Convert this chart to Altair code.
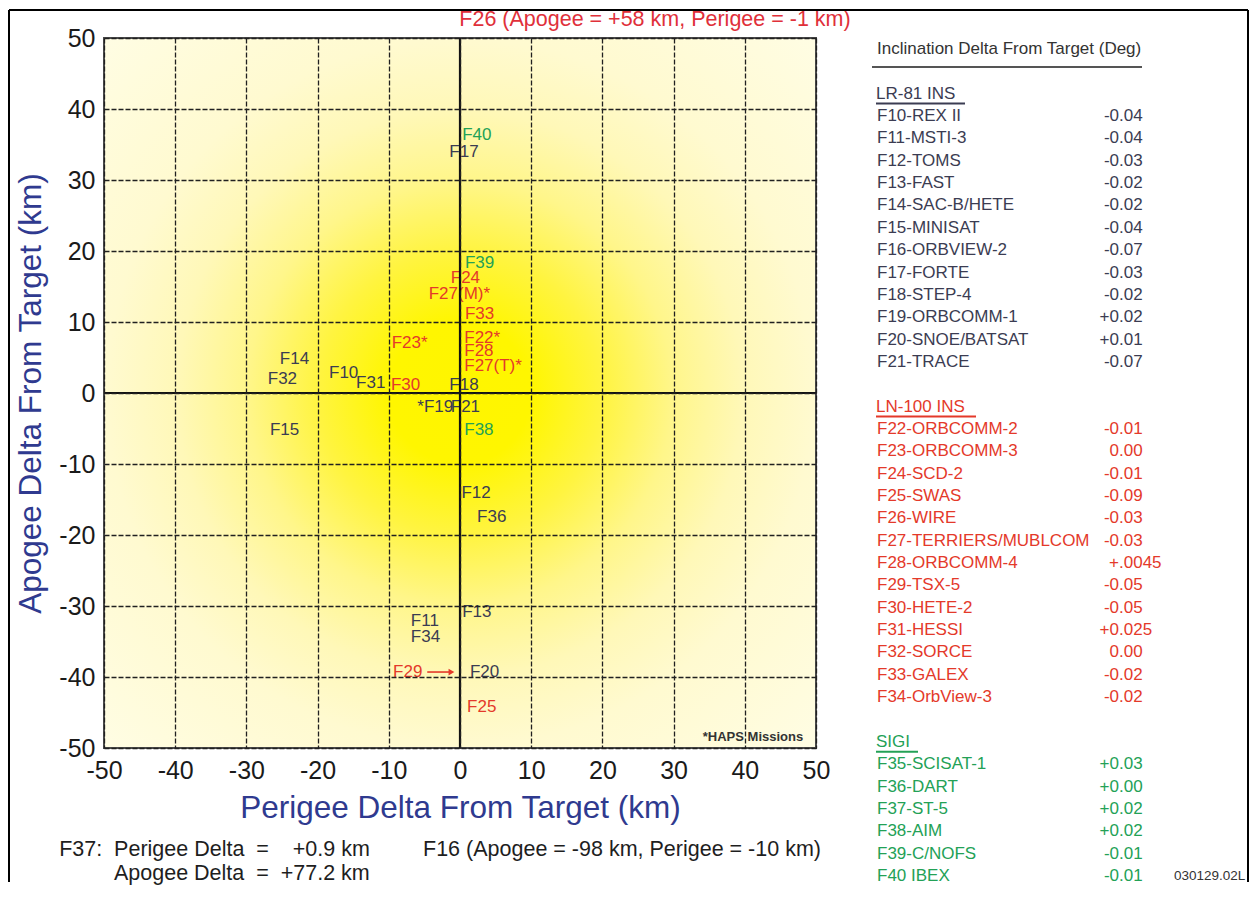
import altair as alt
import pandas as pd

FONT = "Liberation Sans"
NAVY = "#2f3a8f"
INK_DARK = "#3b3c52"
INK_RED = "#e4392a"
INK_GREEN = "#23a156"
TAB_DARK = "#45485f"
TAB_RED = "#d5344c"
TAB_GREEN = "#27a05e"

AXIS_MIN, AXIS_MAX = -50, 50
TICKS = [-50, -40, -30, -20, -10, 0, 10, 20, 30, 40, 50]
X_TITLE = "Perigee Delta From Target (km)"
Y_TITLE = "Apogee Delta From Target (km)"

# ---- flight labels inside the plot ----
lab_text = ["F10", "F11", "F12", "F13", "F14", "F15", "F17", "F18", "*F19", "F20", "F21",
            "F31", "F32", "F34", "F36",
            "F22*", "F23*", "F24", "F25", "F27(M)*", "F27(T)*", "F28", "F29", "F30", "F33",
            "F38", "F39", "F40"]
lab_x = [-18.4, -6.9, 0.2, 0.3, -25.3, -26.7, -1.5, -1.5, -6.0, 1.4, -1.3,
         -14.6, -27.0, -6.9, 2.4,
         0.6, -9.6, -1.3, 1.0, -4.4, 0.6, 0.6, -9.4, -9.7, 0.7,
         0.6, 0.7, 0.3]
lab_y = [2.8, -32.1, -14.1, -30.8, 4.8, -5.2, 33.9, 1.1, -2.0, -39.3, -2.0,
         1.4, 2.0, -34.4, -17.5,
         7.7, 7.0, 16.2, -44.2, 13.9, 3.8, 5.9, -39.3, 1.1, 11.1,
         -5.2, 18.3, 36.3]
lab_ink = ["dark"] * 15 + ["red"] * 10 + ["green"] * 3

# F29 arrow
arrow_x = [-4.6, -1.2]
arrow_y = [-39.3, -39.3]

# notes
note_top = "F26 (Apogee = +58 km, Perigee = -1 km)"
note_top_xy = (-0.1, 51.76)
note_f37_a = "F37:\u00a0 Perigee Delta\u00a0 =\u00a0 \u00a0 +0.9 km"
note_f37_b = "Apogee Delta\u00a0 =\u00a0 +77.2 km"
note_f16 = "F16 (Apogee = -98 km, Perigee = -10 km)"
note_haps = "*HAPS Missions"

# ---- inclination table ----
lr_names = ["F10-REX II", "F11-MSTI-3", "F12-TOMS", "F13-FAST", "F14-SAC-B/HETE", "F15-MINISAT",
            "F16-ORBVIEW-2", "F17-FORTE", "F18-STEP-4", "F19-ORBCOMM-1", "F20-SNOE/BATSAT", "F21-TRACE"]
lr_vals = ["-0.04", "-0.04", "-0.03", "-0.02", "-0.02", "-0.04", "-0.07", "-0.03", "-0.02",
           "+0.02", "+0.01", "-0.07"]
ln_names = ["F22-ORBCOMM-2", "F23-ORBCOMM-3", "F24-SCD-2", "F25-SWAS", "F26-WIRE",
            "F27-TERRIERS/MUBLCOM", "F28-ORBCOMM-4", "F29-TSX-5", "F30-HETE-2", "F31-HESSI",
            "F32-SORCE", "F33-GALEX", "F34-OrbView-3"]
ln_vals = ["-0.01", "0.00", "-0.01", "-0.09", "-0.03", "-0.03", "+ .0045", "-0.05", "-0.05",
           "+0.025", "0.00", "-0.02", "-0.02"]
sigi_names = ["F35-SCISAT-1", "F36-DART", "F37-ST-5", "F38-AIM", "F39-C/NOFS", "F40 IBEX"]
sigi_vals = ["+0.03", "+0.00", "+0.02", "+0.02", "-0.01", "-0.01"]
group_titles = ["LR-81 INS", "LN-100 INS", "SIGI"]
table_header = "Inclination Delta From Target (Deg)"
doc_code = "030129.02L"

# ---------------- layout constants ----------------
PLOT_W, PLOT_H = 712, 710
TABLE_W = 270
NAME_X, DEC_X, HEAD_X = 5, 247, 4
GROUP_START = [3, 17, 32]
UNDERLINE_W = [89, 100, 42]

# ---------------- main plot ----------------
xs = alt.Scale(domain=[AXIS_MIN, AXIS_MAX], nice=False, zero=False)
ys = alt.Scale(domain=[AXIS_MIN, AXIS_MAX], nice=False, zero=False)
common_axis = dict(values=TICKS, grid=True, gridDash=[5, 2], gridColor="#202020", gridWidth=1.3,
                   domain=False, ticks=False, labelFontSize=25, labelColor="#1a1a1a",
                   labelFont=FONT, labelFlush=False, labelOverlap=False, labelExpr="datum.value + ''",
                   titleFont=FONT, titleFontSize=31.5, titleFontWeight="normal", titleColor=NAVY,
                   zindex=1)
x_axis = alt.Axis(title=X_TITLE, labelPadding=10, titlePadding=9, **common_axis)
y_axis = alt.Axis(title=Y_TITLE, labelPadding=9, titlePadding=11, **common_axis)


def X(f):
    return alt.X(f, type="quantitative", scale=xs, axis=x_axis)


def Y(f):
    return alt.Y(f, type="quantitative", scale=ys, axis=y_axis)


GRAD = {"gradient": "radial", "x1": 0.5, "y1": 0.5, "r1": 0, "x2": 0.5, "y2": 0.5, "r2": 0.71,
        "stops": [{"offset": 0, "color": "#fff500"},
                  {"offset": 0.14, "color": "#fff600"},
                  {"offset": 0.28, "color": "#fff440"},
                  {"offset": 0.42, "color": "#fff68a"},
                  {"offset": 0.56, "color": "#fff8b8"},
                  {"offset": 0.7, "color": "#fffad0"},
                  {"offset": 1, "color": "#fffde4"}]}

bg = alt.Chart(pd.DataFrame({"x0": [AXIS_MIN], "x1": [AXIS_MAX], "y0": [AXIS_MIN], "y1": [AXIS_MAX]})).mark_rect(
    fill=GRAD, stroke="#4b4b4b", strokeWidth=2).encode(x=X("x0"), x2="x1", y=Y("y0"), y2="y1")

lab_df = pd.DataFrame({"label": lab_text, "x": lab_x, "y": lab_y, "ink": lab_ink})
labels = alt.Chart(lab_df).mark_text(align="left", baseline="middle", fontSize=17, font=FONT).encode(
    x=X("x"), y=Y("y"), text="label:N",
    color=alt.Color("ink:N", scale=alt.Scale(domain=["dark", "red", "green"],
                                             range=[INK_DARK, INK_RED, INK_GREEN]), legend=None))

arrow_df = pd.DataFrame({"x": arrow_x, "y": arrow_y})
arrow_line = alt.Chart(arrow_df).mark_line(color=INK_RED, strokeWidth=1.6).encode(x=X("x"), y=Y("y"))
arrow_head = alt.Chart(arrow_df.tail(1)).mark_point(shape="triangle-right", filled=True, color=INK_RED,
                                                    size=45, opacity=1).encode(x=X("x"), y=Y("y"))

zero_x = alt.Chart(pd.DataFrame({"x": [0]})).mark_rule(color="#111", strokeWidth=2.2).encode(x=X("x"))
zero_y = alt.Chart(pd.DataFrame({"y": [0]})).mark_rule(color="#111", strokeWidth=2.2).encode(y=Y("y"))

haps = alt.Chart(pd.DataFrame({"t": [note_haps], "x": [48.2], "y": [-48.5]})).mark_text(
    align="right", baseline="middle", fontSize=13, fontWeight="bold", color="#333", font=FONT).encode(
    x=X("x"), y=Y("y"), text="t:N")

top_note = alt.Chart(pd.DataFrame({"t": [note_top], "x": [note_top_xy[0]], "y": [note_top_xy[1]]})).mark_text(
    align="left", baseline="alphabetic", fontSize=21.5, color="#e0303a", font=FONT).encode(
    x=X("x"), y=Y("y"), text="t:N")

left_notes = alt.Chart(pd.DataFrame({"t": [note_f37_a, note_f37_b], "x": [-56.3, -48.6],
                                     "y": [-64.4, -67.7]})).mark_text(
    align="left", baseline="middle", fontSize=21.5, color="#1e1e1e", font=FONT).encode(
    x=X("x"), y=Y("y"), text="t:N")
right_note = alt.Chart(pd.DataFrame({"t": [note_f16], "x": [50.7], "y": [-64.4]})).mark_text(
    align="right", baseline="middle", fontSize=21.5, color="#1e1e1e", font=FONT).encode(
    x=X("x"), y=Y("y"), text="t:N")

one = alt.Data(values=[{"k": 0}])
frame_top = alt.Chart(one).mark_rule(color="#000", strokeWidth=2).encode(
    x=alt.value(-95), x2=alt.value(1144), y=alt.value(-28))
frame_left = alt.Chart(one).mark_rule(color="#000", strokeWidth=2).encode(
    x=alt.value(-95), y=alt.value(-28), y2=alt.value(844))
frame_right = alt.Chart(one).mark_rule(color="#000", strokeWidth=2).encode(
    x=alt.value(1144), y=alt.value(-28), y2=alt.value(844))

main = alt.layer(bg, labels, arrow_line, arrow_head, zero_x, zero_y, haps, top_note, left_notes,
                 right_note, frame_top, frame_left, frame_right).properties(width=PLOT_W, height=PLOT_H)

# ---------------- table ----------------
rows = []
heads = []
for gi, (names, vals, grp) in enumerate([(lr_names, lr_vals, "dark"), (ln_names, ln_vals, "red"),
                                         (sigi_names, sigi_vals, "green")]):
    start = GROUP_START[gi]
    heads.append({"slot": start - 1, "text": group_titles[gi], "grp": grp, "px": HEAD_X,
                  "px2": HEAD_X + UNDERLINE_W[gi], "uslot": start - 1 + 0.44})
    for i, (n, v) in enumerate(zip(names, vals)):
        ip, fp = v.split(".")
        rows.append({"slot": start + i, "name": n, "ip": ip.replace(" ", "\u00a0"), "fp": "." + fp,
                     "grp": grp, "nx": NAME_X, "dx": DEC_X})
rows_df = pd.DataFrame(rows)
heads_df = pd.DataFrame(heads)

tx = alt.Scale(domain=[0, TABLE_W], nice=False, zero=False)
ty = alt.Scale(domain=[0, 37], range=[11, 838], nice=False, zero=False)
tcol = alt.Color("grp:N", scale=alt.Scale(domain=["dark", "red", "green"],
                                          range=[TAB_DARK, TAB_RED, TAB_GREEN]), legend=None)


def TX(f):
    return alt.X(f, type="quantitative", scale=tx, axis=None)


def TY(f):
    return alt.Y(f, type="quantitative", scale=ty, axis=None)


t_names = alt.Chart(rows_df).mark_text(align="left", baseline="middle", fontSize=17, font=FONT).encode(
    x=TX("nx"), y=TY("slot"), text="name:N", color=tcol)
t_ip = alt.Chart(rows_df).mark_text(align="right", baseline="middle", fontSize=17, font=FONT).encode(
    x=TX("dx"), y=TY("slot"), text="ip:N", color=tcol)
t_fp = alt.Chart(rows_df).mark_text(align="left", baseline="middle", fontSize=17, font=FONT).encode(
    x=TX("dx"), y=TY("slot"), text="fp:N", color=tcol)
t_heads = alt.Chart(heads_df).mark_text(align="left", baseline="middle", fontSize=17, font=FONT).encode(
    x=TX("px"), y=TY("slot"), text="text:N", color=tcol)
t_under = alt.Chart(heads_df).mark_rule(strokeWidth=2).encode(
    x=TX("px"), x2="px2", y=TY("uslot"), color=tcol)
hdr_df = pd.DataFrame({"t": [table_header], "x": [NAME_X], "x0": [0], "x1": [TABLE_W], "s": [0], "us": [0.8]})
t_hdr = alt.Chart(hdr_df).mark_text(align="left", baseline="middle", fontSize=17, color="#333",
                                    font=FONT).encode(x=TX("x"), y=TY("s"), text="t:N")
t_hdr_rule = alt.Chart(hdr_df).mark_rule(strokeWidth=2, color="#555").encode(x=TX("x0"), x2="x1", y=TY("us"))
code_df = pd.DataFrame({"t": [doc_code], "x": [302], "s": [37]})
t_code = alt.Chart(code_df).mark_text(align="left", baseline="middle", fontSize=13.5, color="#333",
                                      font=FONT).encode(x=TX("x"), y=TY("s"), text="t:N")

table = alt.layer(t_hdr, t_hdr_rule, t_heads, t_under, t_names, t_ip, t_fp, t_code).properties(
    width=TABLE_W, height=PLOT_H)

chart = alt.hconcat(main, table, spacing=56, bounds="flush").properties(padding=0).configure(
    font=FONT).configure_view(stroke=None)

chart.save("out.html", embed_options={"renderer": "svg", "actions": False})
